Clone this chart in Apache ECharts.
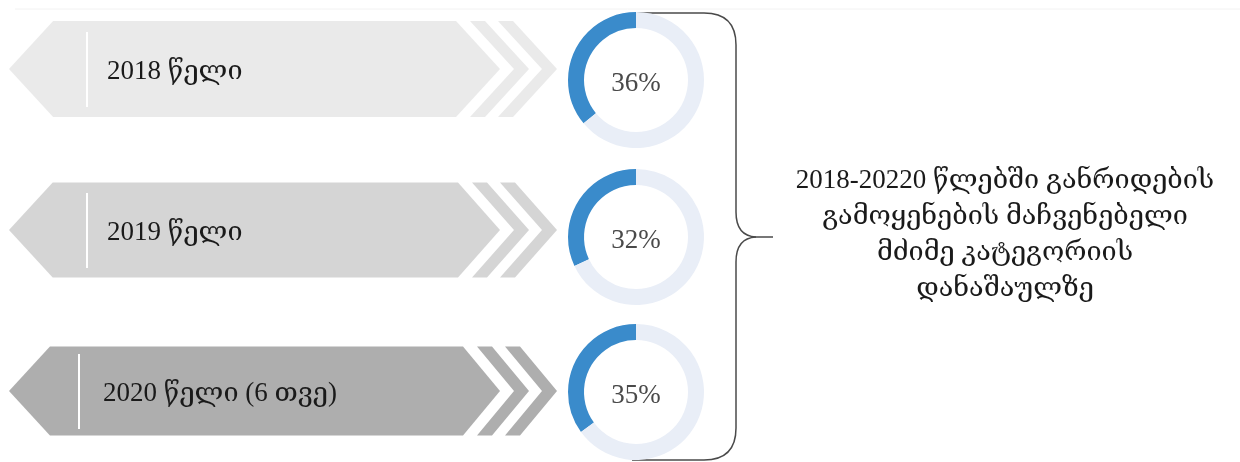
<!DOCTYPE html>
<html>
<head>
<meta charset="utf-8">
<script src="https://cdn.jsdelivr.net/npm/echarts@6/dist/echarts.min.js"></script>
<style>
  html, body { margin: 0; padding: 0; background: #fff; }
  #chart { width: 1240px; height: 462px; }
</style>
</head>
<body>
<div id="chart"></div>
<script>
// categories and values
const years = ['2018 წელი', '2019 წელი', '2020 წელი (6 თვე)']
const shares = [36, 32, 35]
const noteLines = [
  '2018-20220 წლებში განრიდების',
  'გამოყენების მაჩვენებელი',
  'მძიმე კატეგორიის',
  'დანაშაულზე'
]

// look of the arrows, one entry per row
const arrowColors = ['#eaeaea', '#d5d5d5', '#aeaeae']
const arrowHalf = [48, 47.5, 44.5]
const rightDx = [44, 42, 37]
const lineX = [87, 87, 79]
const textX = [107, 107, 103]
const donutY = [80, 237, 392]

const serif = '"Liberation Serif", "DejaVu Serif", serif'

const chart = echarts.init(document.getElementById('chart'))

function renderArrow (params, api) {
  const i = params.dataIndex
  const cy = api.coord([0, i])[1]
  const hh = arrowHalf[i]
  const dl = hh * 0.92
  const dr = rightDx[i]
  const tip = 557
  const c2r = tip - dr
  const c2l = c2r - 15
  const c1r = c2l - 13
  const c1l = c1r - 15
  const mr = c1l - 14
  const color = arrowColors[i]
  const chevron = (l, r) => ({
    type: 'polygon',
    shape: { points: [[l, cy - hh], [r, cy - hh], [r + dr, cy], [r, cy + hh], [l, cy + hh], [l + dr, cy]] },
    style: { fill: color }
  })
  return {
    type: 'group',
    children: [
      {
        type: 'polygon',
        shape: { points: [[9, cy], [9 + dl, cy - hh], [mr, cy - hh], [mr + dr, cy], [mr, cy + hh], [9 + dl, cy + hh]] },
        style: { fill: color }
      },
      chevron(c1l, c1r),
      chevron(c2l, c2r),
      {
        type: 'line',
        shape: { x1: lineX[i], y1: cy - 37, x2: lineX[i], y2: cy + 38 },
        style: { stroke: '#ffffff', lineWidth: 2 }
      },
      {
        type: 'text',
        x: textX[i],
        y: cy + 3,
        style: {
          text: years[i],
          fill: '#1a1a1a',
          font: '27px ' + serif,
          textVerticalAlign: 'middle'
        }
      }
    ]
  }
}

const pieSeries = shares.map((v, i) => ({
  type: 'pie',
  silent: true,
  center: [636, donutY[i]],
  radius: [52, 68],
  startAngle: 90,
  clockwise: false,
  animation: false,
  labelLine: { show: false },
  data: [
    {
      value: v,
      itemStyle: { color: '#3a8bcb' },
      label: {
        show: true,
        position: 'center',
        formatter: '{c}%',
        fontFamily: serif,
        fontSize: 27,
        color: '#4a4a4a',
        offset: [0, 4]
      }
    },
    { value: 100 - v, itemStyle: { color: '#e9eef7' }, label: { show: false } }
  ]
}))

// curly brace to the right of the donuts
const braceStyle = { stroke: '#4a4a4a', lineWidth: 1.5, fill: null }
const seg = (x1, y1, x2, y2) => ({ type: 'line', shape: { x1, y1, x2, y2 }, style: braceStyle })
const curve = (x1, y1, cx, cy, x2, y2) => ({
  type: 'bezierCurve',
  shape: { x1, y1, x2, y2, cpx1: cx, cpy1: cy },
  style: braceStyle
})

const option = {
  backgroundColor: '#fff',
  animation: false,
  grid: { left: 0, right: 0, top: 0, bottom: 0 },
  xAxis: { type: 'value', min: 0, max: 1240, show: false },
  // row i sits at value i; bounds chosen so rows land where the picture has them
  yAxis: { type: 'value', inverse: true, min: -0.4286, max: 2.441, show: false },
  series: [
    {
      type: 'custom',
      silent: true,
      renderItem: renderArrow,
      data: years.map((y, i) => [0, i])
    }
  ].concat(pieSeries),
  graphic: [
    {
      type: 'line',
      silent: true,
      shape: { x1: 15, y1: 9, x2: 1240, y2: 9 },
      style: { stroke: '#f2f2f2', lineWidth: 1 }
    },
    {
      type: 'group',
      silent: true,
      children: [
        seg(636, 13, 704, 13),
        curve(704, 13, 736, 13, 736, 45),
        seg(736, 45, 736, 212),
        curve(736, 212, 736, 236, 756, 237),
        seg(756, 237, 773, 237),
        curve(756, 237, 736, 238, 736, 262),
        seg(736, 262, 736, 428),
        curve(736, 428, 736, 460, 704, 460),
        seg(704, 460, 632, 460)
      ]
    },
    {
      type: 'text',
      silent: true,
      x: 1005,
      y: 163,
      style: {
        text: noteLines.join('\n'),
        font: '27px ' + serif,
        lineHeight: 36,
        fill: '#1a1a1a',
        textAlign: 'center',
        textVerticalAlign: 'top'
      }
    }
  ]
}

chart.setOption(option)
window.addEventListener('resize', () => chart.resize())
</script>
</body>
</html>
